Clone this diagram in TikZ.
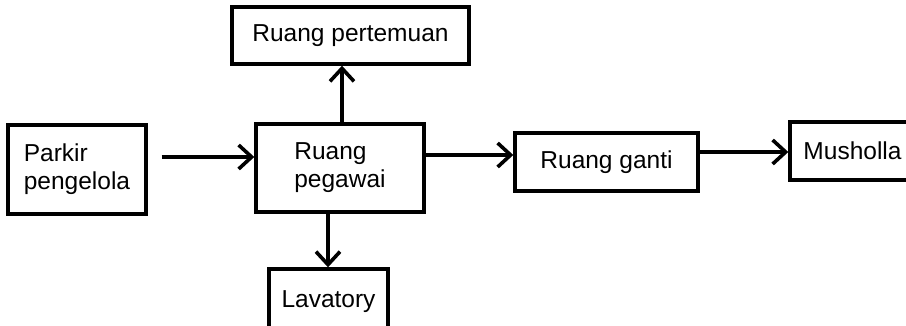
\documentclass[tikz,border=0pt]{standalone}
\usepackage{fontspec}
\setmainfont{Liberation Sans}
\usetikzlibrary{arrows.meta}
\begin{document}
\begin{tikzpicture}[x=1pt,y=-1pt,
  box/.style={draw=black,line width=3.4pt,rectangle,inner sep=0pt,align=left,
    font=\fontsize{24.5}{28}\selectfont},
  arr/.style={draw=black,line width=3.6pt,-{Straight Barb[length=13pt,width=24pt,line width=3.6pt]}}]
\useasboundingbox (0,0) rectangle (906,326);
\clip (0,0) rectangle (906,326);
\fill[white] (0,0) rectangle (906,326);
\node[box,minimum width=138pt,minimum height=89pt] (park) at (77,169.5) {Parkir\\pengelola};
\node[box,minimum width=168pt,minimum height=88pt] (pegawai) at (340,168) {Ruang\\pegawai};
\node[box,minimum width=237pt,minimum height=57pt] (pertemuan) at (350.5,35.5) {Ruang pertemuan};
\node[box,minimum width=119pt,minimum height=66pt] (lavatory) at (328.5,302) {Lavatory};
\node[box,minimum width=183pt,minimum height=58pt] (ganti) at (606.5,162) {Ruang ganti};
\node[box,minimum width=125pt,minimum height=58pt] (musholla) at (852.5,151) {Musholla};
\draw[arr] ([shift={(14pt,12.5pt)}]park.east) -- ([yshift=11pt]pegawai.west);
\draw[arr] ([xshift=2pt]pegawai.north) -- ([xshift=-8.5pt]pertemuan.south);
\draw[arr] ([xshift=-12pt]pegawai.south) -- ([xshift=-0.5pt]lavatory.north);
\draw[arr] ([yshift=13pt]pegawai.east) -- ([yshift=7pt]ganti.west);
\draw[arr] ([yshift=10pt]ganti.east) -- ([yshift=-1pt]musholla.west);
\end{tikzpicture}
\end{document}
